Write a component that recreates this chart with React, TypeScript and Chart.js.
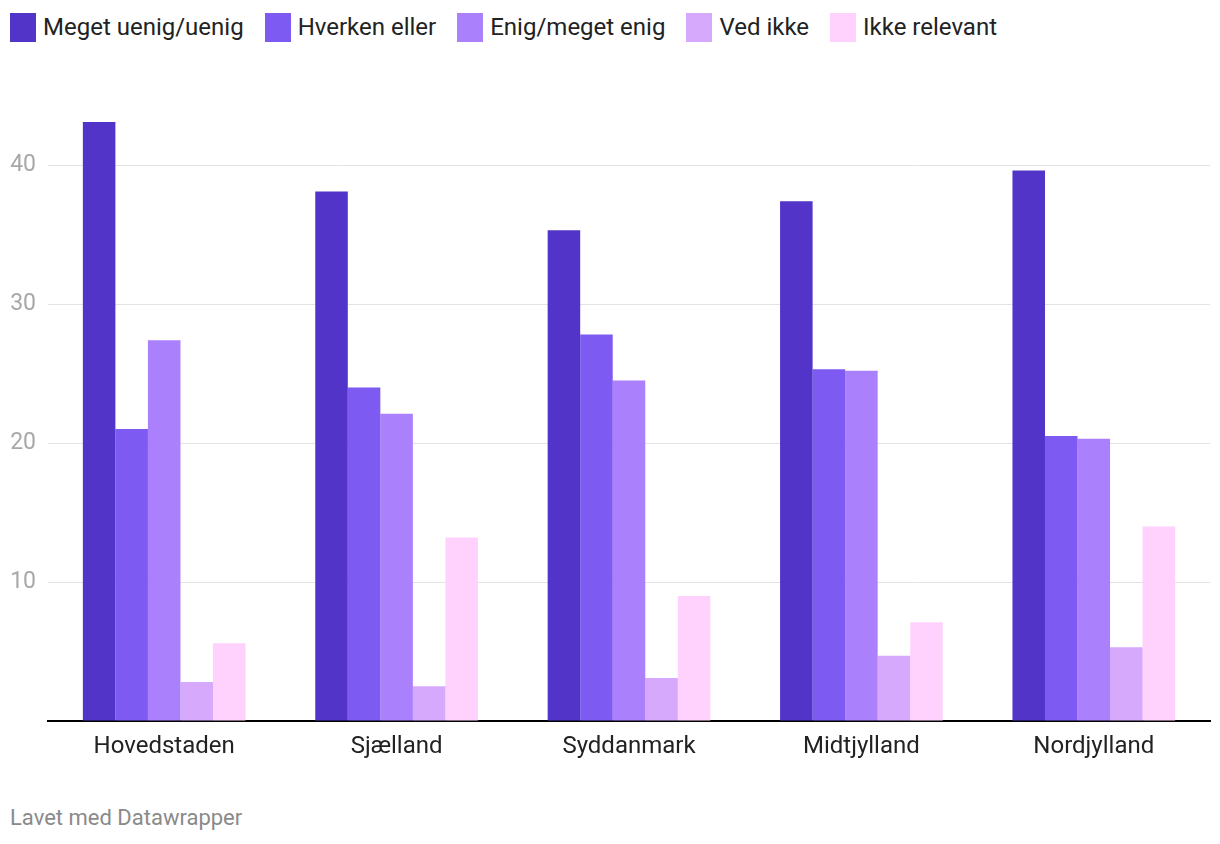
import React, { useEffect, useRef } from "react";
import { Chart, registerables } from "chart.js";

Chart.register(...registerables);

const categories = ["Hovedstaden", "Sjælland", "Syddanmark", "Midtjylland", "Nordjylland"];
const seriesNames = ["Meget uenig/uenig", "Hverken eller", "Enig/meget enig", "Ved ikke", "Ikke relevant"];
const meUenig = [43.1, 38.1, 35.3, 37.4, 39.6];
const hverken = [21.0, 24.0, 27.8, 25.3, 20.5];
const enig = [27.4, 22.1, 24.5, 25.2, 20.3];
const vedIkke = [2.8, 2.5, 3.1, 4.7, 5.3];
const ikkeRelevant = [5.6, 13.2, 9.0, 7.1, 14.0];
const colors = ["#5234c8", "#7d5af2", "#aa80fd", "#d7a9fc", "#ffd2fe"];
const yMax = 45;
const yStep = 10;

export default function App() {
  const ref = useRef<HTMLCanvasElement>(null);
  useEffect(() => {
    if (!ref.current) return;
    const values = [meUenig, hverken, enig, vedIkke, ikkeRelevant];
    const chart = new Chart(ref.current, {
      type: "bar",
      data: {
        labels: categories,
        datasets: values.map((v, i) => ({
          label: seriesNames[i],
          data: v,
          backgroundColor: colors[i],
          borderWidth: 0,
          categoryPercentage: 0.7,
          barPercentage: 1.0,
        })),
      },
      options: {
        animation: false,
        responsive: false,
        maintainAspectRatio: false,
        layout: { padding: { top: 35.5, left: 10, right: 10, bottom: 0 } },
        plugins: { legend: { display: false }, tooltip: { enabled: false } },
        scales: {
          x: {
            grid: { display: false, drawTicks: false },
            border: { display: true, color: "#000000", width: 2 },
            ticks: { color: "#222222", font: { family: "Roboto", size: 24 }, padding: 12 },
            afterFit: (s: any) => { s.height = 59; },
          },
          y: {
            min: 0,
            max: yMax,
            grid: { color: "#e3e3e3", lineWidth: 1, drawTicks: false },
            border: { display: false },
            ticks: {
              stepSize: yStep,
              includeBounds: false,
              color: "#a8a8a8",
              font: { family: "Roboto", size: 23 },
              padding: 12,
              callback: (v: any) => (v === 0 ? "" : String(v)),
            },
            afterFit: (s: any) => { s.width = 38; },
          },
        },
      },
    });
    return () => chart.destroy();
  }, []);

  return (
    <div style={{ position: "fixed", left: 0, top: 0, width: 1220, height: 844, background: "#fff", fontFamily: "Roboto" }}>
      <div style={{ position: "absolute", left: 10, top: 13, display: "flex", alignItems: "center" }}>
        {seriesNames.map((n, i) => (
          <div key={n} style={{ display: "flex", alignItems: "center", marginRight: 21 }}>
            <span style={{ display: "inline-block", width: 26, height: 29, background: colors[i], marginRight: 7 }} />
            <span style={{ fontSize: 24, color: "#222", lineHeight: "29px" }}>{n}</span>
          </div>
        ))}
      </div>
      <canvas ref={ref} width={1220} height={720} style={{ position: "absolute", left: 0, top: 60, width: 1220, height: 720 }} />
      <div style={{ position: "absolute", left: 10, top: 805, fontSize: 22, color: "#8a8a8a" }}>Lavet med Datawrapper</div>
    </div>
  );
}
